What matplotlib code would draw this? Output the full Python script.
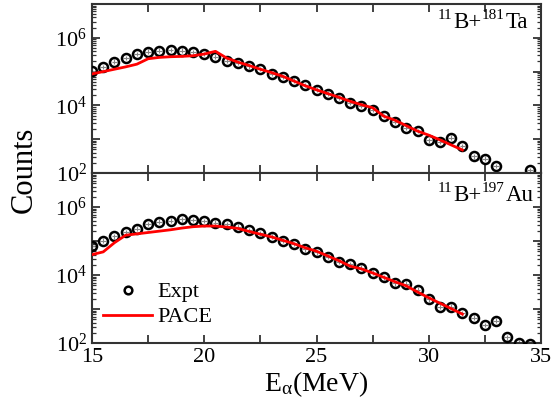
import numpy as np
import matplotlib
matplotlib.use("Agg")
import matplotlib.pyplot as plt
from matplotlib.ticker import LogLocator, FuncFormatter, MultipleLocator, NullFormatter

plt.rcParams['font.family'] = ['Liberation Serif', 'DejaVu Serif']
plt.rcParams['mathtext.fontset'] = 'custom'
plt.rcParams['mathtext.rm'] = 'Liberation Serif'
plt.rcParams['mathtext.it'] = 'Liberation Serif:italic'

# ---- data (log10 counts) ----
e_ta = [15, 15.5, 16, 16.5, 17, 17.5, 18, 18.5, 19, 19.5, 20, 20.5, 21, 21.5, 22, 22.5,
        23, 23.5, 24, 24.5, 25, 25.5, 26, 26.5, 27, 27.5, 28, 28.5, 29, 29.5, 30, 30.5,
        31, 31.5, 32, 32.5, 33, 34.5]
log_expt_ta = [5.03, 5.14, 5.29, 5.40, 5.52, 5.59, 5.62, 5.64, 5.62, 5.58, 5.52, 5.44,
               5.32, 5.26, 5.16, 5.08, 4.93, 4.84, 4.73, 4.60, 4.46, 4.35, 4.23, 4.08,
               3.99, 3.87, 3.69, 3.51, 3.34, 3.24, 2.97, 2.92, 3.05, 2.79, 2.49, 2.42,
               2.21, 2.08]
e_pace_ta = [15, 15.5, 16, 16.5, 17, 17.5, 18, 18.5, 19, 19.5, 20, 20.5, 21, 21.5, 22,
             22.5, 23, 23.5, 24, 24.5, 25, 25.5, 26, 26.5, 27, 27.5, 28, 28.5, 29, 29.5,
             30, 30.5, 31, 31.5]
log_pace_ta = [4.93, 5.00, 5.07, 5.14, 5.22, 5.38, 5.42, 5.44, 5.45, 5.47, 5.52, 5.60,
               5.40, 5.28, 5.18, 5.07, 4.97, 4.86, 4.72, 4.58, 4.46, 4.35, 4.24, 4.12,
               4.02, 3.93, 3.68, 3.56, 3.40, 3.24, 3.12, 2.98, 2.83, 2.68]

e_au = [15, 15.5, 16, 16.5, 17, 17.5, 18, 18.5, 19, 19.5, 20, 20.5, 21, 21.5, 22, 22.5,
        23, 23.5, 24, 24.5, 25, 25.5, 26, 26.5, 27, 27.5, 28, 28.5, 29, 29.5, 30, 30.5,
        31, 31.5, 32, 32.5, 33, 33.5, 34, 34.5]
log_expt_au = [4.85, 5.01, 5.14, 5.26, 5.36, 5.50, 5.57, 5.60, 5.64, 5.62, 5.59, 5.54,
               5.49, 5.42, 5.31, 5.23, 5.13, 5.01, 4.91, 4.76, 4.67, 4.54, 4.39, 4.31,
               4.21, 4.07, 3.93, 3.76, 3.74, 3.57, 3.29, 3.07, 3.07, 2.87, 2.74, 2.53,
               2.66, 2.17, 2.01, 1.97]
e_pace_au = [15, 15.5, 16, 16.5, 17, 17.5, 18, 18.5, 19, 19.5, 20, 20.5, 21, 21.5, 22,
             22.5, 23, 23.5, 24, 24.5, 25, 25.5, 26, 26.5, 27, 27.5, 28, 28.5, 29, 29.5,
             30, 30.5, 31, 31.5]
log_pace_au = [4.60, 4.68, 4.95, 5.17, 5.21, 5.25, 5.29, 5.33, 5.38, 5.42, 5.44, 5.44,
               5.41, 5.37, 5.28, 5.20, 5.12, 5.02, 4.92, 4.80, 4.70, 4.56, 4.42, 4.26,
               4.18, 4.06, 3.93, 3.80, 3.68, 3.50, 3.33, 3.17, 3.01, 2.85]

# reaction labels: (projectile mass, projectile, target mass, target)
labels = [('11', 'B+', '181', 'Ta'), ('11', 'B+', '197', 'Au')]
label_base = [0.858, 0.835]

fig = plt.figure(figsize=(5.51, 4.09), dpi=100)
ax1 = fig.add_axes([92/551, 1-173/409, 449/551, 169/409])
ax2 = fig.add_axes([92/551, 1-343/409, 449/551, 170/409], sharex=ax1)

spine_col = '#333333'

def dec_fmt(v, pos):
    p = int(round(np.log10(v)))
    if p % 2 == 0:
        return r'$10^{%d}$' % p
    return ''

def reaction_label(ax, parts, x0, yb):
    big, small, rise = 16.5, 11, 6.5
    t = ax.annotate(parts[0], xy=(x0, yb), xycoords='axes fraction', xytext=(0, rise),
                    textcoords='offset points', ha='left', va='baseline', fontsize=small)
    t = ax.annotate(parts[1], xy=(1, yb), xycoords=(t, 'axes fraction'), xytext=(0.5, 0),
                    textcoords='offset points', ha='left', va='baseline', fontsize=big)
    t = ax.annotate(parts[2], xy=(1, yb), xycoords=(t, 'axes fraction'), xytext=(0.3, rise),
                    textcoords='offset points', ha='left', va='baseline', fontsize=small)
    ax.annotate(parts[3], xy=(1, yb), xycoords=(t, 'axes fraction'), xytext=(0.5, 0),
                textcoords='offset points', ha='left', va='baseline', fontsize=big)

for ax, e, le, ep, lp, lab, yb in [(ax1, e_ta, log_expt_ta, e_pace_ta, log_pace_ta, labels[0], label_base[0]),
                                   (ax2, e_au, log_expt_au, e_pace_au, log_pace_au, labels[1], label_base[1])]:
    y = 10 ** np.array(le)
    yerr = np.vstack([y * (1 - 10 ** -0.07), y * (10 ** 0.07 - 1)])
    ax.errorbar(e, y, xerr=0.13, yerr=yerr, fmt='none', ecolor='#888888',
                elinewidth=0.8, capsize=0, zorder=2)
    ax.plot(e, y, 'o', mfc='none', mec='black', mew=1.8, ms=6.5, zorder=3, label='Expt')
    ax.plot(ep, 10 ** np.array(lp), '-', color='#ff0000', lw=2, zorder=4, label='PACE')
    ax.set_yscale('log')
    ax.set_ylim(1e2, 1e7)
    ax.set_xlim(15, 35)
    ax.yaxis.set_major_locator(LogLocator(base=10, numticks=10))
    ax.yaxis.set_minor_locator(LogLocator(base=10, subs=np.arange(2, 10), numticks=20))
    ax.yaxis.set_major_formatter(FuncFormatter(dec_fmt))
    ax.yaxis.set_minor_formatter(NullFormatter())
    ax.xaxis.set_major_locator(MultipleLocator(2.5))
    ax.xaxis.set_major_formatter(FuncFormatter(lambda v, p: '%d' % v if abs(v % 5) < 1e-6 else ''))
    ax.tick_params(which='both', direction='in', top=True, right=True, labelsize=16,
                   color=spine_col)
    ax.tick_params(which='major', length=6, width=1.3)
    ax.tick_params(which='minor', length=3, width=0.9)
    for s in ax.spines.values():
        s.set_linewidth(1.5)
        s.set_color(spine_col)
    reaction_label(ax, lab, (438 - 92) / 449, yb)

ax1.tick_params(labelbottom=False)
ax2.set_xlabel(r'E$_{\mathrm{α}}$(MeV)', fontsize=20, labelpad=2)
fig.text(24/551, 1 - 170/409, 'Counts', rotation=90, ha='center', va='center', fontsize=22)

ax2.legend(loc='lower left', bbox_to_anchor=(-0.01, 0.0), frameon=False, fontsize=16,
           handlelength=2.2, handletextpad=0.25, borderpad=0.2, labelspacing=0.2,
           numpoints=1, markerscale=0.85)

fig.savefig('out.png', dpi=100)
